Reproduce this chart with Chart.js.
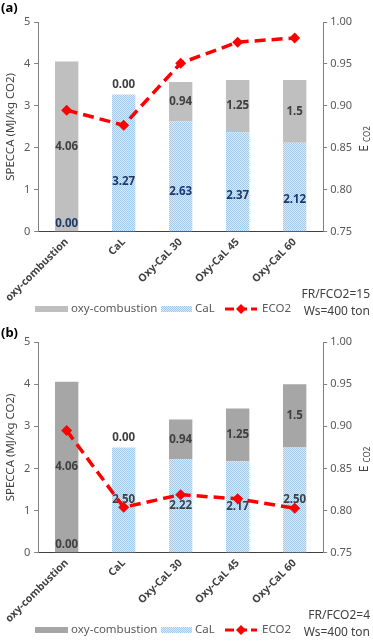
<!DOCTYPE html>
<html>
<head>
<meta charset="utf-8">
<script src="https://cdn.jsdelivr.net/npm/chart.js@4.4.1/dist/chart.umd.min.js"></script>
<style>
    html, body { margin: 0; padding: 0; background: #fff; }
    .panel { position: relative; width: 373px; height: 320px; }
    .panel + .panel { height: 321px; }
</style>
</head>
<body>
<div class="panel"><canvas id="chartA" width="373" height="320"></canvas></div>
<div class="panel"><canvas id="chartB" width="373" height="321"></canvas></div>
<script>
    "use strict";

    // categories on x axis
    var categories = ["oxy-combustion", "CaL", "Oxy-CaL 30", "Oxy-CaL 45", "Oxy-CaL 60"];

    // panel (a): FR/FCO2=15
    var calA = [0, 3.27, 2.63, 2.37, 2.12];
    var oxyA = [4.06, 0, 0.94, 1.25, 1.5];
    var eco2A = [0.895, 0.877, 0.951, 0.976, 0.981];
    var calLabelsA = ["0.00", "3.27", "2.63", "2.37", "2.12"];
    var oxyLabelsA = ["4.06", "0.00", "0.94", "1.25", "1.5"];
    var notesA = ["FR/FCO2=15", "Ws=400 ton"];

    // panel (b): FR/FCO2=4
    var calB = [0, 2.50, 2.22, 2.17, 2.50];
    var oxyB = [4.06, 0, 0.94, 1.25, 1.5];
    var eco2B = [0.895, 0.804, 0.819, 0.814, 0.803];
    var calLabelsB = ["0.00", "2.50", "2.22", "2.17", "2.50"];
    var oxyLabelsB = ["4.06", "0.00", "0.94", "1.25", "1.5"];
    var notesB = ["FR/FCO2=4", "Ws=400 ton"];

    // axis ranges
    var leftRange = [0, 5, 1];
    var rightRange = [0.75, 1.00, 0.05];

    var FONT = "'Noto Sans', 'Open Sans', sans-serif";

    // dotted light blue fill for CaL bars
    function makePattern() {
        var c = document.createElement("canvas");
        c.width = 2;
        c.height = 2;
        var g = c.getContext("2d");
        g.fillStyle = "#dce9f6";
        g.fillRect(0, 0, 2, 2);
        g.fillStyle = "#a4c8e8";
        g.fillRect(0, 0, 1, 1);
        g.fillRect(1, 1, 1, 1);
        return g.createPattern(c, "repeat");
    }

    // bar value labels, drawn right after the CaL bars (under the ECO2 line)
    var barLabels = {
        id: "barLabels",
        afterDatasetDraw: function (chart, args, opts) {
            if (args.index !== 0) return;
            var ctx = chart.ctx;
            var calMeta = chart.getDatasetMeta(0);
            var oxyMeta = chart.getDatasetMeta(1);
            ctx.save();
            ctx.font = "bold 11.5px " + FONT;
            ctx.textAlign = "center";
            ctx.textBaseline = "middle";
            calMeta.data.forEach(function (bar, i) {
                var y;
                if (opts.cal[i] === 0) {
                    y = bar.base - 8;
                } else {
                    y = bar.base - (bar.base - bar.y) * opts.calFrac;
                }
                ctx.fillStyle = opts.calColor;
                ctx.fillText(opts.calLabels[i], bar.x, y);
            });
            oxyMeta.data.forEach(function (bar, i) {
                var y;
                if (opts.oxy[i] === 0) {
                    y = bar.y - 10;
                } else {
                    y = (bar.base + bar.y) / 2;
                }
                ctx.fillStyle = "#404040";
                ctx.fillText(opts.oxyLabels[i], bar.x, y);
            });
            ctx.restore();
        },
    };

    // panel letter, right axis title, legend and notes
    var decorations = {
        id: "decorations",
        afterDraw: function (chart, args, opts) {
            var ctx = chart.ctx;
            var area = chart.chartArea;
            var H = chart.height;
            ctx.save();

            // panel letter
            ctx.fillStyle = "#000";
            ctx.font = "bold 13px " + FONT;
            ctx.textAlign = "left";
            ctx.textBaseline = "middle";
            ctx.fillText(opts.letter, 1, opts.letterY);

            // right axis title: E with subscript CO2
            ctx.save();
            ctx.translate(364, (area.top + area.bottom) / 2 + 12);
            ctx.rotate(-Math.PI / 2);
            ctx.fillStyle = "#404040";
            ctx.textBaseline = "alphabetic";
            ctx.textAlign = "left";
            ctx.font = "12px " + FONT;
            var wE = ctx.measureText("E ").width;
            ctx.font = "8px " + FONT;
            var wS = ctx.measureText("CO2").width;
            var x0 = -(wE + wS) / 2;
            ctx.font = "12px " + FONT;
            ctx.fillText("E", x0, 4);
            ctx.font = "8px " + FONT;
            ctx.fillText("CO2", x0 + wE, 6);
            ctx.restore();

            // legend
            var ly = H - 11;
            ctx.font = "11.5px " + FONT;
            ctx.textBaseline = "middle";
            ctx.textAlign = "left";
            ctx.fillStyle = opts.oxyColor;
            ctx.fillRect(35, ly - 3, 33, 6);
            ctx.fillStyle = "#595959";
            ctx.fillText("oxy-combustion", 71, ly);

            ctx.fillStyle = opts.pattern;
            ctx.fillRect(161, ly - 3, 31, 6);
            ctx.fillStyle = "#595959";
            ctx.fillText("CaL", 195, ly);

            ctx.strokeStyle = "#ff0000";
            ctx.lineWidth = 3;
            ctx.setLineDash([9, 4]);
            ctx.beginPath();
            ctx.moveTo(225, ly);
            ctx.lineTo(257, ly);
            ctx.stroke();
            ctx.setLineDash([]);
            ctx.fillStyle = "#ff0000";
            ctx.beginPath();
            ctx.moveTo(241, ly - 5);
            ctx.lineTo(246, ly);
            ctx.lineTo(241, ly + 5);
            ctx.lineTo(236, ly);
            ctx.closePath();
            ctx.fill();
            ctx.fillStyle = "#595959";
            ctx.fillText("ECO2", 262, ly);

            // notes at bottom right
            ctx.fillStyle = "#404040";
            ctx.font = "12px " + FONT;
            ctx.textAlign = "right";
            ctx.fillText(opts.notes[0], 370, H - 25);
            ctx.fillText(opts.notes[1], 370, H - 8);

            ctx.restore();
        },
    };

    function buildChart(canvasId, cal, oxy, eco2, calLabels, oxyLabels, notes, letter, oxyColor, calColor, calFrac, letterY) {
        var ctx = document.getElementById(canvasId).getContext("2d");
        var pattern = makePattern();

        return new Chart(ctx, {
            type: "bar",
            data: {
                labels: categories,
                datasets: [
                    {
                        type: "bar",
                        label: "CaL",
                        data: cal,
                        backgroundColor: pattern,
                        barPercentage: 0.41,
                        categoryPercentage: 1,
                        yAxisID: "y",
                        order: 1,
                    },
                    {
                        type: "bar",
                        label: "oxy-combustion",
                        data: oxy,
                        backgroundColor: oxyColor,
                        barPercentage: 0.41,
                        categoryPercentage: 1,
                        yAxisID: "y",
                        order: 2,
                    },
                    {
                        type: "line",
                        label: "ECO2",
                        data: eco2,
                        borderColor: "#ff0000",
                        backgroundColor: "#ff0000",
                        borderWidth: 3.5,
                        borderDash: [11, 6],
                        pointStyle: "rectRot",
                        pointRadius: 5.5,
                        pointBorderWidth: 0,
                        fill: false,
                        tension: 0,
                        yAxisID: "y1",
                        order: 0,
                    },
                ],
            },
            options: {
                responsive: false,
                animation: false,
                layout: { padding: { top: 22, right: 18, bottom: 12, left: 0 } },
                plugins: {
                    legend: { display: false },
                    tooltip: { enabled: false },
                    barLabels: {
                        cal: cal,
                        oxy: oxy,
                        calLabels: calLabels,
                        oxyLabels: oxyLabels,
                        calColor: calColor,
                        calFrac: calFrac,
                    },
                    decorations: {
                        letter: letter,
                        letterY: letterY,
                        notes: notes,
                        oxyColor: oxyColor,
                        pattern: pattern,
                    },
                },
                scales: {
                    x: {
                        stacked: true,
                        grid: { display: false, drawTicks: false },
                        border: { color: "#404040", width: 1 },
                        ticks: {
                            color: "#404040",
                            font: { family: FONT, size: 10.5, weight: "bold" },
                            minRotation: 45,
                            maxRotation: 45,
                            padding: 4,
                        },
                    },
                    y: {
                        stacked: true,
                        position: "left",
                        min: leftRange[0],
                        max: leftRange[1],
                        grid: { drawOnChartArea: false, drawTicks: true, tickLength: 4, color: "#808080" },
                        border: { color: "#808080", width: 1 },
                        ticks: {
                            stepSize: leftRange[2],
                            color: "#595959",
                            font: { family: FONT, size: 11 },
                            padding: 4,
                        },
                        title: {
                            display: true,
                            text: "SPECCA (MJ/kg CO2)",
                            color: "#404040",
                            font: { family: FONT, size: 11.5 },
                            padding: { top: 0, bottom: 2 },
                        },
                    },
                    y1: {
                        stacked: false,
                        position: "right",
                        min: rightRange[0],
                        max: rightRange[1],
                        grid: { drawOnChartArea: false, drawTicks: true, tickLength: 4, color: "#808080" },
                        border: { color: "#808080", width: 1 },
                        ticks: {
                            stepSize: rightRange[2],
                            color: "#595959",
                            font: { family: FONT, size: 11 },
                            padding: 3,
                            callback: function (v) {
                                return Number(v).toFixed(2);
                            },
                        },
                    },
                },
            },
            plugins: [barLabels, decorations],
        });
    }

    buildChart("chartA", calA, oxyA, eco2A, calLabelsA, oxyLabelsA, notesA, "(a)", "#bfbfbf", "#1f3864", 0.36, 8);
    buildChart("chartB", calB, oxyB, eco2B, calLabelsB, oxyLabelsB, notesB, "(b)", "#a6a6a6", "#404040", 0.5, 13);
</script>
</body>
</html>
